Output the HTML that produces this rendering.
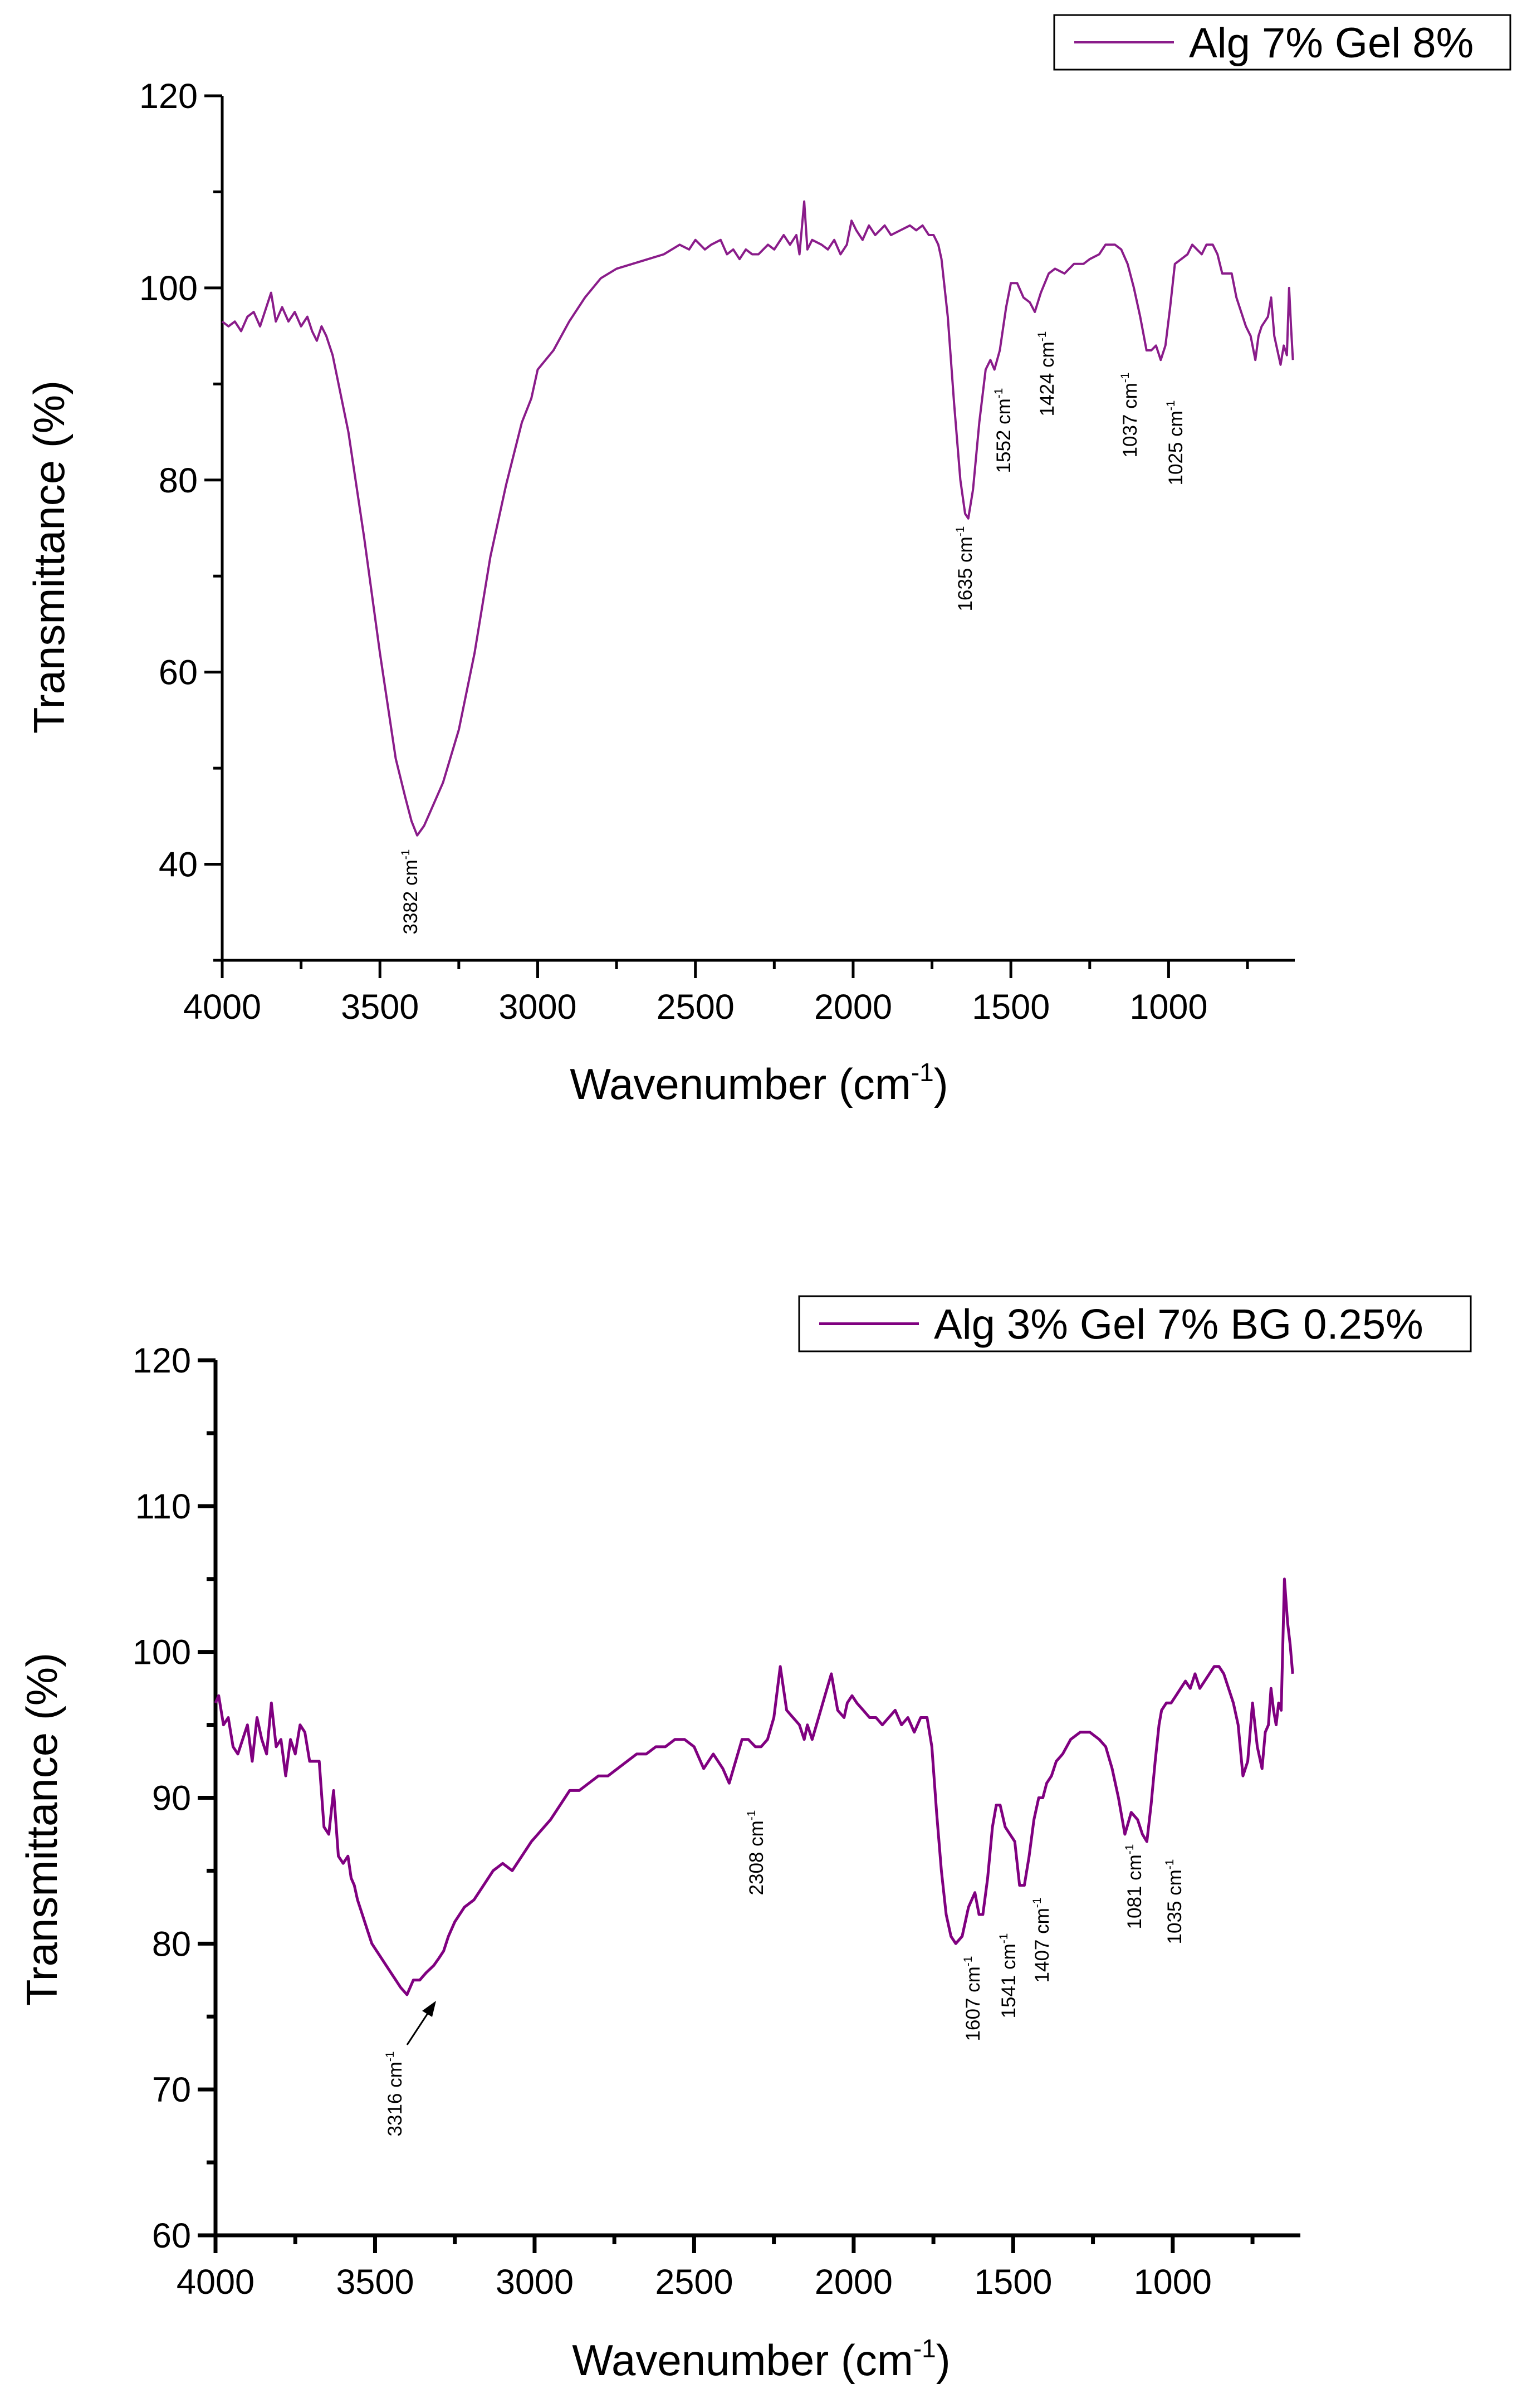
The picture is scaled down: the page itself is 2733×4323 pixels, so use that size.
<!DOCTYPE html>
<html><head><meta charset="utf-8"><style>
html,body{margin:0;padding:0;background:#fff}
svg{display:block}
text{font-family:"Liberation Sans",Arial,sans-serif;fill:#000}
</style></head><body>
<svg id="root" width="2733" height="4323" viewBox="0 0 2733 4323" xmlns="http://www.w3.org/2000/svg">
<g id="chartA"></g>
<g id="chartB"></g>
</svg>
<script>
// ---- Chart A data (Alg 7% Gel 8%) ----
const waveA = [4000,3980,3960,3940,3920,3900,3880,3860,3845,3830,3810,3790,3770,3750,3730,3715,3700,3685,3670,3650,3600,3550,3500,3450,3420,3400,3382,3360,3340,3300,3250,3200,3150,3100,3050,3020,3000,2950,2900,2850,2800,2750,2700,2650,2600,2550,2520,2500,2470,2450,2420,2400,2380,2360,2340,2320,2300,2270,2250,2220,2200,2180,2170,2155,2145,2130,2100,2080,2060,2040,2020,2005,1990,1970,1950,1930,1900,1880,1850,1820,1800,1780,1760,1745,1730,1720,1700,1680,1660,1645,1635,1620,1600,1580,1565,1552,1535,1515,1500,1480,1460,1440,1424,1405,1380,1360,1330,1300,1270,1250,1220,1200,1170,1150,1130,1110,1090,1070,1055,1040,1025,1010,995,980,960,940,925,910,895,880,860,845,830,815,800,785,770,755,740,725,715,705,695,685,675,665,655,645,635,625,618,612,606,600];
const transA = [96.5,96,96.5,95.5,97,97.5,96,98,99.5,96.5,98,96.5,97.5,96,97,95.5,94.5,96,95,93,85,74,62,51,47,44.5,43,44,45.5,48.5,54,62,72,79.5,86,88.5,91.5,93.5,96.5,99,101,102,102.5,103,103.5,104.5,104,105,104,104.5,105,103.5,104,103,104,103.5,103.5,104.5,104,105.5,104.5,105.5,103.5,109,104,105,104.5,104,105,103.5,104.5,107,106,105,106.5,105.5,106.5,105.5,106,106.5,106,106.5,105.5,105.5,104.5,103,97,88,80,76.5,76,79,86,91.5,92.5,91.5,93.5,98,100.5,100.5,99,98.5,97.5,99.5,101.5,102,101.5,102.5,102.5,103,103.5,104.5,104.5,104,102.5,100,97,93.5,93.5,94,92.5,94,98,102.5,103,103.5,104.5,104,103.5,104.5,104.5,103.5,101.5,101.5,101.5,99,97.5,96,95,92.5,95,96,96.5,97,99,95,93.5,92,94,93,100,96,92.5];
const labelsA = ["3382","1635","1552","1424","1037","1025"];
// ---- Chart B data (Alg 3% Gel 7% BG 0.25%) ----
const waveB = [4000,3990,3975,3960,3945,3930,3915,3900,3885,3870,3855,3840,3825,3810,3795,3780,3765,3750,3735,3720,3705,3690,3675,3660,3645,3630,3615,3600,3585,3575,3565,3555,3540,3525,3510,3495,3480,3465,3450,3435,3420,3400,3380,3360,3340,3316,3300,3285,3270,3250,3220,3190,3160,3130,3100,3070,3040,3010,2990,2970,2950,2920,2890,2860,2830,2800,2770,2740,2710,2680,2650,2620,2590,2560,2530,2500,2470,2440,2410,2390,2370,2350,2330,2308,2290,2270,2250,2230,2210,2190,2170,2155,2145,2130,2110,2090,2070,2050,2030,2020,2005,1990,1970,1950,1930,1910,1890,1870,1850,1830,1810,1790,1770,1755,1740,1725,1710,1695,1680,1660,1640,1620,1607,1595,1580,1565,1553,1541,1525,1510,1495,1480,1465,1450,1435,1420,1407,1395,1380,1365,1345,1320,1290,1260,1230,1210,1190,1170,1150,1130,1110,1095,1081,1068,1055,1043,1035,1020,1005,990,975,960,945,930,915,900,885,870,855,840,825,810,795,780,765,750,735,720,710,700,692,684,676,668,660,650,640,632,624,616,611,607,603,600];
const transB = [96.5,97,95,95.5,93.5,93,94,95,92.5,95.5,94,93,96.5,93.5,94,91.5,94,93,95,94.5,92.5,92.5,92.5,88,87.5,90.5,86,85.5,86,84.5,84,83,82,81,80,79.5,79,78.5,78,77.5,77,76.5,77.5,77.5,78,78.5,79,79.5,80.5,81.5,82.5,83,84,85,85.5,85,86,87,87.5,88,88.5,89.5,90.5,90.5,91,91.5,91.5,92,92.5,93,93,93.5,93.5,94,94,93.5,92,93,92,91,92.5,94,94,93.5,93.5,94,95.5,99,96,95.5,95,94,95,94,95.5,97,98.5,96,95.5,96.5,97,96.5,96,95.5,95.5,95,95.5,96,95,95.5,94.5,95.5,95.5,93.5,89,85,82,80.5,80,80.5,82.5,83.5,82,82,84.5,88,89.5,89.5,88,87.5,87,84,84,86,88.5,90,90,91,91.5,92.5,93,94,94.5,94.5,94,93.5,92,90,87.5,89,88.5,87.5,87,89.5,92.5,95,96,96.5,96.5,97,97.5,98,97.5,98.5,97.5,98,98.5,99,99,98.5,97.5,96.5,95,91.5,92.5,96.5,93.5,92,94.5,95,97.5,96,95,96.5,96,105,102,100.5,98.5];
const labelsB = ["3316","2308","1607","1541","1407","1081","1035"];

const NS="http://www.w3.org/2000/svg";
function mk(parent,tag,attrs){const e=document.createElementNS(NS,tag);for(const k in attrs)e.setAttribute(k,attrs[k]);parent.appendChild(e);return e;}

function drawChart(g,cfg,waves,trans,labels,labelPos){
  const X=w=>cfg.x0+(cfg.wMax-w)/(cfg.wMax-cfg.wMin)*(cfg.x1-cfg.x0);
  const Y=v=>cfg.y1-(v-cfg.vMin)/(cfg.vMax-cfg.vMin)*(cfg.y1-cfg.y0);
  // axes
  const ax=mk(g,'path',{d:`M${cfg.x0},${cfg.y0} V${cfg.y1} H${cfg.x1}`,fill:'none',stroke:'#000','stroke-width':cfg.aw});
  
  
  // y ticks
  for(let v=cfg.vMin;v<=cfg.vMax+0.01;v+=cfg.yMinor){
    const major=Math.abs(((v-cfg.vMin)%cfg.yMajor))<0.01 && v!==cfg.vMinNoLabel;
    const isLab=cfg.yLabels.includes(v);
    const len=isLab?32:16;
    const t=mk(g,'line',{x1:cfg.x0,x2:cfg.x0-len,y1:Y(v),y2:Y(v),stroke:'#000','stroke-width':cfg.aw});
    
    
    if(isLab){
      const tx=mk(g,'text',{x:cfg.x0-44,y:Y(v)+22,'text-anchor':'end','font-size':63});
      tx.textContent=String(v);
      
      
    }
  }
  // x ticks
  for(let w=4000;w>=cfg.wMin;w-=250){
    const lab=w%500===0;
    const t=mk(g,'line',{x1:X(w),x2:X(w),y1:cfg.y1,y2:cfg.y1+(lab?32:16),stroke:'#000','stroke-width':cfg.aw});
    
    
    if(lab){
      const tx=mk(g,'text',{x:X(w),y:cfg.y1+105,'text-anchor':'middle','font-size':63});
      tx.textContent=String(w);
      
      
    }
  }
  // series
  let d='';
  for(let i=0;i<waves.length;i++){d+=(i?'L':'M')+X(waves[i]).toFixed(1)+','+Y(trans[i]).toFixed(1);}
  const p=mk(g,'path',{d:d,fill:'none',stroke:cfg.color,'stroke-width':cfg.lw,'stroke-linejoin':'round'});
  
  
  // axis titles
  const yt=mk(g,'text',{x:0,y:0,'text-anchor':'middle','font-size':78,transform:`translate(${cfg.ytx+27},${cfg.yty}) rotate(-90)`});
  yt.textContent='Transmittance (%)';
  
  
  const xt=mk(g,'text',{x:cfg.xtx,y:cfg.xty+27,'text-anchor':'middle','font-size':78});
  xt.innerHTML='Wavenumber (cm<tspan font-size="46" dy="-32">-1</tspan><tspan dy="32">)</tspan>';
  
  
  // legend
  const lb=mk(g,'rect',{x:cfg.leg[0],y:cfg.leg[1],width:cfg.leg[2]-cfg.leg[0],height:cfg.leg[3]-cfg.leg[1],fill:'#fff',stroke:'#000','stroke-width':3});
  
  
  const ly=(cfg.leg[1]+cfg.leg[3])/2;
  const ll=mk(g,'line',{x1:cfg.leg[0]+36,x2:cfg.leg[0]+215,y1:ly,y2:ly,stroke:cfg.color,'stroke-width':cfg.lw});
  
  
  const lt=mk(g,'text',{x:cfg.leg[0]+242,y:ly+27,'font-size':76});
  lt.textContent=cfg.name;
  
  
  // annotations
  labels.forEach((l,i)=>{
    const [cx,cy]=labelPos[i];
    const a=mk(g,'text',{x:0,y:0,'text-anchor':'middle','font-size':35,transform:`translate(${cx+12},${cy}) rotate(-90)`});
    a.innerHTML=l+' cm<tspan font-size="21" dy="-14">-1</tspan>';
    
    
  });
}

drawChart(document.getElementById('chartA'),
 {x0:399,x1:2325,y0:172,y1:1724,wMax:4000,wMin:600,vMin:30,vMax:120,yMajor:20,yMinor:10,yLabels:[40,60,80,100,120],
  aw:5,lw:4,color:'#8a1c8a',ytx:88,yty:1000,xtx:1363,xty:1946,leg:[1893,27,2712,125],name:'Alg 7% Gel 8%'},
 waveA,transA,labelsA,[[737,1601],[1733,1021],[1802,773],[1880,671],[2029,745],[2111,795]]);

drawChart(document.getElementById('chartB'),
 {x0:387,x1:2335,y0:2442,y1:4013,wMax:4000,wMin:600,vMin:60,vMax:120,yMajor:10,yMinor:5,yLabels:[60,70,80,90,100,110,120],
  aw:7,lw:5,color:'#800080',ytx:75,yty:3284,xtx:1367,xty:4237,leg:[1435,2327,2641,2426],name:'Alg 3% Gel 7% BG 0.25%'},
 waveB,transB,labelsB,[[709,3759],[1358,3326],[1747,3588],[1811,3547],[1871,3483],[2037,3387],[2109,3414]]);

// arrow for 3316 label
const gB=document.getElementById('chartB');
const arr=mk(gB,'line',{x1:731,y1:3671,x2:775,y2:3604,stroke:'#000','stroke-width':3});


const head=mk(gB,'polygon',{points:'783,3592 758,3610 776,3621',fill:'#000'});


</script>
</body></html>
